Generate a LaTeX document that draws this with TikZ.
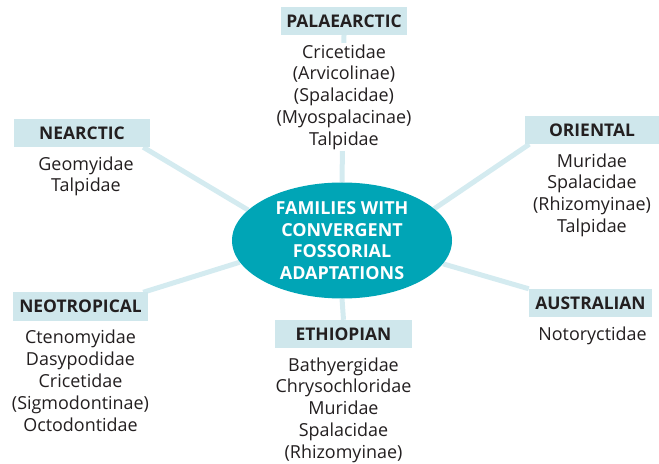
\documentclass[tikz,border=0pt]{standalone}
\usepackage{fontspec}
\setmainfont{Open Sans}
\usepackage{tikz}
\usetikzlibrary{shapes.geometric,positioning,backgrounds}
\definecolor{hubTeal}{RGB}{0,165,182}
\definecolor{boxBlue}{RGB}{207,231,236}
\definecolor{linkBlue}{RGB}{212,235,240}
\definecolor{inkGrey}{RGB}{35,31,32}
\tikzset{
myRegion/.style={
	rectangle,fill=boxBlue,
	inner sep=0pt,minimum width=135bp,minimum height=28bp,
	text=inkGrey,font=\bfseries\fontsize{17.5}{20}\selectfont
}
, myFamilies/.style={
	rectangle,fill=white,align=center,
	inner sep=1bp,text=inkGrey,
	font=\fontsize{18}{22}\selectfont
}
, myHub/.style={
	ellipse,fill=hubTeal,align=center,
	minimum width=220bp,minimum height=116bp,
	inner sep=0pt,text=white,
	font=\bfseries\fontsize{18}{21.5}\selectfont
}
% link
, myLink/.style={line width=5bp,color=linkBlue}
}

\begin{document}
\begin{tikzpicture}[x=1bp,y=-1bp,node distance=8bp]
	\useasboundingbox (0,0) rectangle (659,464);
	% hub
	\node[myHub] (Hub) at (342,240.5) {FAMILIES WITH\\CONVERGENT\\FOSSORIAL\\ADAPTATIONS};

	% regions
	\node[myRegion,minimum width=126bp] (Palaearctic) at (344,21)  {PALAEARCTIC};
	\node[myRegion,minimum width=136bp] (Nearctic) at (82,133)  {NEARCTIC};
	\node[myRegion] (Oriental) at (592,130)  {ORIENTAL};
	\node[myRegion] (Neotropical) at (80.5,306.5)  {NEOTROPICAL};
	\node[myRegion,minimum width=137bp] (Ethiopian) at (343.5,334)  {ETHIOPIAN};
	\node[myRegion,minimum width=123bp] (Australian) at (590.5,303)  {AUSTRALIAN};

	% families
	\node[myFamilies] (PalaearcticFam) [below=of Palaearctic]  {Cricetidae\\(Arvicolinae)\\(Spalacidae)\\(Myospalacinae)\\Talpidae};
	\node[myFamilies,xshift=4bp] (NearcticFam) [below=of Nearctic]  {Geomyidae\\Talpidae};
	\node[myFamilies] (OrientalFam) [below=of Oriental]  {Muridae\\Spalacidae\\(Rhizomyinae)\\Talpidae};
	\node[myFamilies] (NeotropicalFam) [below=of Neotropical]  {Ctenomyidae\\Dasypodidae\\Cricetidae\\(Sigmodontinae)\\Octodontidae};
	\node[myFamilies] (EthiopianFam) [below=of Ethiopian]  {Bathyergidae\\Chrysochloridae\\Muridae\\Spalacidae\\(Rhizomyinae)};
	\node[myFamilies,xshift=2bp] (AustralianFam) [below=of Australian]  {Notoryctidae};

	% links
	\begin{scope}[on background layer]
	\draw [myLink] (Palaearctic.south) to (Hub.north);
	\draw [myLink] ([xshift=-7bp]Nearctic.south east) to (Hub.162);
	\draw [myLink] ([xshift=5bp]Oriental.south west) to (Hub.19);
	\draw [myLink] ([xshift=-5bp]Neotropical.north east) to (Hub.192);
	\draw [myLink] (Hub.south) to (Ethiopian.north);
	\draw [myLink] (Australian.north west) to (Hub.347);
	\end{scope}
\end{tikzpicture}
\end{document}
